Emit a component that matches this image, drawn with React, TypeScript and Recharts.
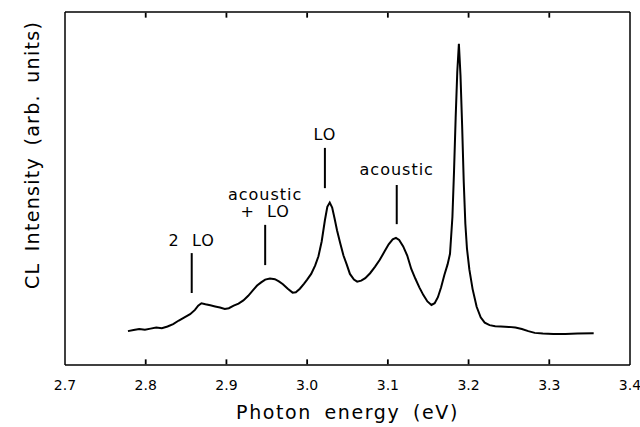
import React from "react";
import {
  LineChart,
  Line,
  XAxis,
  YAxis,
  ReferenceLine,
  ReferenceDot,
} from "recharts";

// photon energy (eV) and CL intensity (arb. units, 0..100 across the frame)
const energy = [
  2.778, 2.785, 2.792, 2.799, 2.806, 2.813, 2.82, 2.827, 2.834, 2.841,
  2.848, 2.855, 2.861, 2.865, 2.869, 2.874, 2.88, 2.886, 2.892, 2.898,
  2.903, 2.909, 2.915, 2.921, 2.927, 2.933, 2.938, 2.943, 2.948, 2.954,
  2.96, 2.965, 2.97, 2.976, 2.982, 2.986, 2.991, 2.996, 3.0, 3.005,
  3.01, 3.014, 3.018, 3.022, 3.025, 3.028, 3.031, 3.034, 3.037, 3.041,
  3.045, 3.049, 3.053, 3.058, 3.062, 3.067, 3.072, 3.078, 3.084, 3.09,
  3.096, 3.101, 3.106, 3.11, 3.114, 3.119, 3.124, 3.129, 3.134, 3.139,
  3.144, 3.149, 3.154, 3.158, 3.162, 3.166, 3.17, 3.174, 3.177, 3.18,
  3.182, 3.184, 3.186, 3.188, 3.19, 3.192, 3.194, 3.196, 3.198, 3.201,
  3.205, 3.21, 3.215, 3.22, 3.226, 3.233, 3.24, 3.25, 3.258, 3.266,
  3.274, 3.282, 3.292, 3.305, 3.32, 3.335, 3.355,
];
const intensity = [
  9.6, 9.9, 10.2, 10.0, 10.3, 10.6, 10.4, 10.9, 11.6, 12.6,
  13.5, 14.4, 15.6, 16.8, 17.5, 17.2, 16.9, 16.6, 16.3, 15.9,
  16.1, 16.8, 17.4, 18.3, 19.6, 21.2, 22.5, 23.4, 24.2, 24.5,
  24.3, 23.7, 22.9, 21.6, 20.5, 20.6, 21.6, 23.0, 24.2, 25.8,
  28.2, 30.8, 35.0, 41.0, 44.8, 46.0, 44.6, 41.5, 38.2, 34.5,
  31.0, 28.5, 25.8, 24.2, 23.6, 23.9, 24.6, 26.0, 27.8, 29.8,
  32.2, 34.2, 35.6, 36.0, 35.4, 33.6, 31.0, 27.2, 24.5, 22.0,
  19.8, 18.0, 17.0, 17.5, 19.2, 22.0, 25.5, 28.5, 31.5, 42.0,
  55.0, 70.0, 83.0, 91.0, 82.0, 68.0, 52.0, 40.0, 33.0, 27.0,
  21.5, 16.5, 13.5, 12.0, 11.3, 11.0, 10.9, 10.8, 10.6, 10.2,
  9.6, 9.1, 8.9, 8.8, 8.8, 8.9, 9.0,
];
const xTicks = [2.7, 2.8, 2.9, 3.0, 3.1, 3.2, 3.3, 3.4];
const innerTicks = [2.8, 2.9, 3.0, 3.1, 3.2, 3.3];

// phonon replica markers: energy, line top/bottom, text lines and their heights
const markerX = [2.857, 2.948, 3.022, 3.111];
const markerTop = [31.7, 39.7, 61.5, 51.0];
const markerBottom = [20.4, 28.3, 50.1, 39.9];
const markerText = [["2  LO"], ["acoustic", "+  LO"], ["LO"], ["acoustic"]];
const markerTextY = [[35.4], [48.4, 43.4], [65.4], [55.4]];

const data = energy.map((e, i) => ({ energy: e, intensity: intensity[i] }));

const FONT = "'DejaVu Sans', sans-serif";
const Y_MIN = 0;
const Y_MAX = 100;
const TICK_LEN = 1.6; // inward tick length in y units

export default function App() {
  return (
    <div style={{ position: "absolute", left: 0, top: 0 }}>
      <LineChart
        width={640}
        height={427}
        data={data}
        margin={{ top: 12, right: 0, bottom: 0, left: 0 }}
      >
        <XAxis
          dataKey="energy"
          type="number"
          domain={[2.7, 3.4]}
          ticks={xTicks}
          allowDataOverflow
          height={62}
          tickSize={0}
          tickMargin={15}
          tickFormatter={(v: number) => v.toFixed(1)}
          axisLine={false}
          tickLine={false}
          tick={{ fill: "#000", fontSize: 14, fontFamily: FONT }}
          label={{
            value: "Photon energy (eV)",
            position: "insideBottom",
            offset: 8,
            fill: "#000",
            fontSize: 19,
            fontFamily: FONT,
            style: { letterSpacing: "1.6px", wordSpacing: "5px" },
          }}
        />
        <YAxis
          type="number"
          domain={[Y_MIN, Y_MAX]}
          width={65}
          tick={false}
          tickLine={false}
          axisLine={{ stroke: "#000", strokeWidth: 1.5 }}
          label={(props: any) => {
            const vb = props.viewBox;
            const cx = vb.x + 32;
            const cy = vb.y + vb.height * 0.405;
            return (
              <text
                x={cx}
                y={cy}
                transform={`rotate(-90, ${cx}, ${cy})`}
                textAnchor="middle"
                dominantBaseline="central"
                fontSize={19}
                fontFamily={FONT}
                fill="#000"
                style={{ letterSpacing: "1.3px", wordSpacing: "4px" }}
              >
                CL Intensity (arb. units)
              </text>
            );
          }}
        />
        <YAxis
          yAxisId="right"
          orientation="right"
          type="number"
          domain={[Y_MIN, Y_MAX]}
          width={10}
          tick={false}
          tickLine={false}
          axisLine={{ stroke: "#000", strokeWidth: 1.5 }}
        />

        {/* top and bottom frame with inward ticks */}
        <ReferenceLine y={Y_MIN} stroke="#000" strokeWidth={1.5} ifOverflow="visible" />
        <ReferenceLine y={Y_MAX} stroke="#000" strokeWidth={1.5} ifOverflow="visible" />
        {innerTicks.map((x, i) => (
          <ReferenceLine
            key={"b" + i}
            segment={[
              { x, y: Y_MIN + 0.2 },
              { x, y: Y_MIN + TICK_LEN },
            ]}
            stroke="#000"
            strokeWidth={1.8}
            ifOverflow="visible"
          />
        ))}
        {innerTicks.map((x, i) => (
          <ReferenceLine
            key={"u" + i}
            segment={[
              { x, y: Y_MAX - TICK_LEN },
              { x, y: Y_MAX - 0.2 },
            ]}
            stroke="#000"
            strokeWidth={1.8}
            ifOverflow="visible"
          />
        ))}

        {markerX.map((x, i) => (
          <ReferenceLine
            key={"m" + i}
            segment={[
              { x, y: markerBottom[i] },
              { x, y: markerTop[i] },
            ]}
            stroke="#000"
            strokeWidth={2}
            ifOverflow="visible"
          />
        ))}
        {markerX.map((x, i) =>
          markerText[i].map((t, j) => (
            <ReferenceDot
              key={"t" + i + "-" + j}
              x={x}
              y={markerTextY[i][j]}
              r={0}
              ifOverflow="visible"
              shape={(p: any) => (
                <text
                  x={p.cx}
                  y={p.cy}
                  textAnchor="middle"
                  dominantBaseline="central"
                  fontSize={16}
                  fontFamily={FONT}
                  fill="#000"
                  style={{ letterSpacing: "1px", whiteSpace: "pre" }}
                >
                  {t}
                </text>
              )}
            />
          ))
        )}

        <Line
          type="linear"
          dataKey="intensity"
          stroke="#000"
          strokeWidth={2}
          dot={false}
          isAnimationActive={false}
        />
      </LineChart>
    </div>
  );
}
